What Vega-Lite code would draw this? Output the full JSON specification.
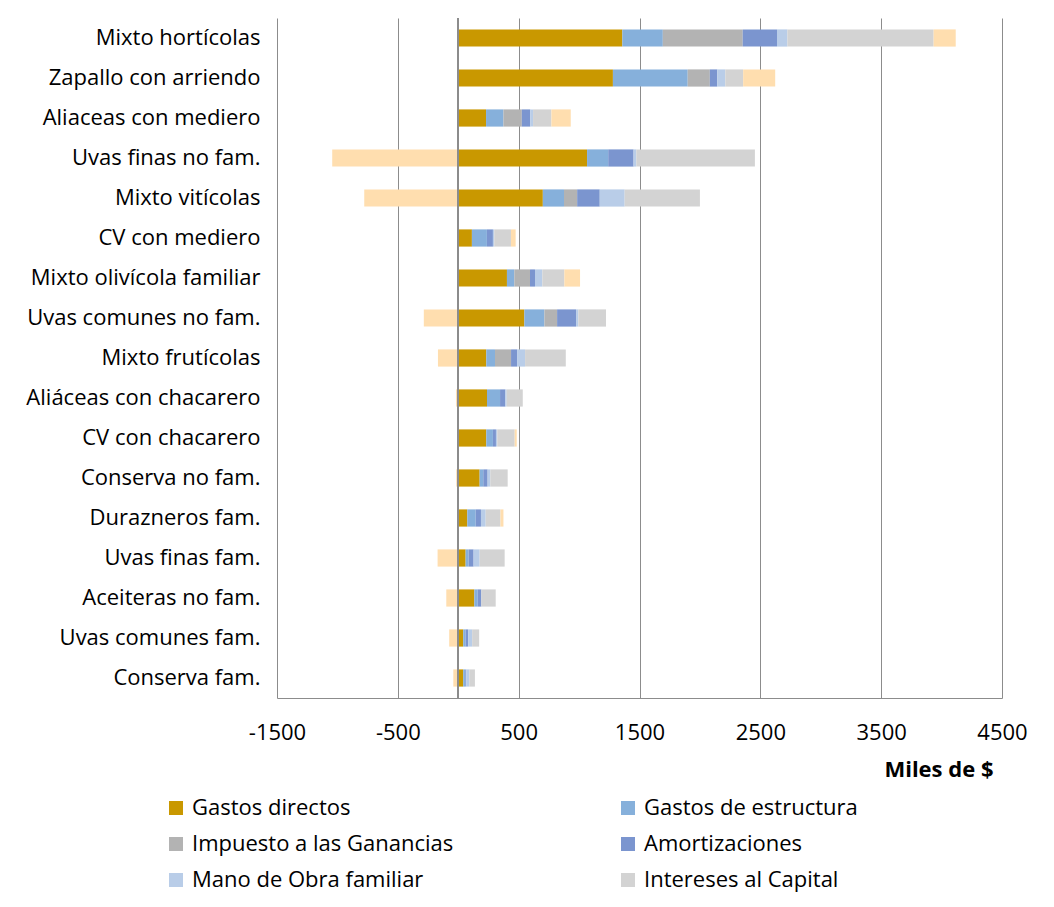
{
  "$schema": "https://vega.github.io/schema/vega-lite/v6.json",
  "description": "Costos y resultado por tipo de explotacion (stacked bars)",
  "width": 725,
  "height": 680,
  "autosize": {"type": "none"},
  "padding": {"left": 277, "top": 18, "right": 52, "bottom": 209},
  "config": {
    "font": "Open Sans",
    "view": {"stroke": null},
    "axis": {"gridColor": "#8c8c8c", "domainColor": "#8c8c8c", "ticks": false, "labelColor": "#000", "labelFontSize": 22, "labelFont": "Open Sans"},
    "legend": {"labelFontSize": 22, "labelFont": "Open Sans", "labelColor": "#000"}
  },
  "data": {
    "values": [
      {"c": "Mixto hortícolas", "s": "Gastos directos", "v": 1358},
      {"c": "Mixto hortícolas", "s": "Gastos de estructura", "v": 335},
      {"c": "Mixto hortícolas", "s": "Impuesto a las Ganancias", "v": 661},
      {"c": "Mixto hortícolas", "s": "Amortizaciones", "v": 284},
      {"c": "Mixto hortícolas", "s": "Mano de Obra familiar", "v": 86},
      {"c": "Mixto hortícolas", "s": "Intereses al Capital", "v": 1210},
      {"c": "Mixto hortícolas", "s": "Resultado", "v": 183},
      {"c": "Zapallo  con arriendo", "s": "Gastos directos", "v": 1280},
      {"c": "Zapallo  con arriendo", "s": "Gastos de estructura", "v": 619},
      {"c": "Zapallo  con arriendo", "s": "Impuesto a las Ganancias", "v": 183},
      {"c": "Zapallo  con arriendo", "s": "Amortizaciones", "v": 62},
      {"c": "Zapallo  con arriendo", "s": "Mano de Obra familiar", "v": 66},
      {"c": "Zapallo  con arriendo", "s": "Intereses al Capital", "v": 148},
      {"c": "Zapallo  con arriendo", "s": "Resultado", "v": 265},
      {"c": "Aliaceas con mediero", "s": "Gastos directos", "v": 230},
      {"c": "Aliaceas con mediero", "s": "Gastos de estructura", "v": 144},
      {"c": "Aliaceas con mediero", "s": "Impuesto a las Ganancias", "v": 152},
      {"c": "Aliaceas con mediero", "s": "Amortizaciones", "v": 70},
      {"c": "Aliaceas con mediero", "s": "Mano de Obra familiar", "v": 23},
      {"c": "Aliaceas con mediero", "s": "Intereses al Capital", "v": 152},
      {"c": "Aliaceas con mediero", "s": "Resultado", "v": 160},
      {"c": "Uvas finas no fam.", "s": "Gastos directos", "v": 1066},
      {"c": "Uvas finas no fam.", "s": "Gastos de estructura", "v": 175},
      {"c": "Uvas finas no fam.", "s": "Amortizaciones", "v": 210},
      {"c": "Uvas finas no fam.", "s": "Mano de Obra familiar", "v": 23},
      {"c": "Uvas finas no fam.", "s": "Intereses al Capital", "v": 981},
      {"c": "Uvas finas no fam.", "s": "Resultado", "v": -1043},
      {"c": "Mixto vitícolas", "s": "Gastos directos", "v": 700},
      {"c": "Mixto vitícolas", "s": "Gastos de estructura", "v": 175},
      {"c": "Mixto vitícolas", "s": "Impuesto a las Ganancias", "v": 109},
      {"c": "Mixto vitícolas", "s": "Amortizaciones", "v": 187},
      {"c": "Mixto vitícolas", "s": "Mano de Obra familiar", "v": 206},
      {"c": "Mixto vitícolas", "s": "Intereses al Capital", "v": 623},
      {"c": "Mixto vitícolas", "s": "Resultado", "v": -778},
      {"c": "CV con mediero", "s": "Gastos directos", "v": 113},
      {"c": "CV con mediero", "s": "Gastos de estructura", "v": 124},
      {"c": "CV con mediero", "s": "Amortizaciones", "v": 50},
      {"c": "CV con mediero", "s": "Mano de Obra familiar", "v": 11},
      {"c": "CV con mediero", "s": "Intereses al Capital", "v": 138},
      {"c": "CV con mediero", "s": "Resultado", "v": 39},
      {"c": "Mixto olivícola familiar", "s": "Gastos directos", "v": 403},
      {"c": "Mixto olivícola familiar", "s": "Gastos de estructura", "v": 61},
      {"c": "Mixto olivícola familiar", "s": "Impuesto a las Ganancias", "v": 130},
      {"c": "Mixto olivícola familiar", "s": "Amortizaciones", "v": 41},
      {"c": "Mixto olivícola familiar", "s": "Mano de Obra familiar", "v": 61},
      {"c": "Mixto olivícola familiar", "s": "Intereses al Capital", "v": 182},
      {"c": "Mixto olivícola familiar", "s": "Resultado", "v": 130},
      {"c": "Uvas comunes no fam.", "s": "Gastos directos", "v": 547},
      {"c": "Uvas comunes no fam.", "s": "Gastos de estructura", "v": 166},
      {"c": "Uvas comunes no fam.", "s": "Impuesto a las Ganancias", "v": 105},
      {"c": "Uvas comunes no fam.", "s": "Amortizaciones", "v": 157},
      {"c": "Uvas comunes no fam.", "s": "Mano de Obra familiar", "v": 19},
      {"c": "Uvas comunes no fam.", "s": "Intereses al Capital", "v": 229},
      {"c": "Uvas comunes no fam.", "s": "Resultado", "v": -285},
      {"c": "Mixto frutícolas", "s": "Gastos directos", "v": 232},
      {"c": "Mixto frutícolas", "s": "Gastos de estructura", "v": 72},
      {"c": "Mixto frutícolas", "s": "Impuesto a las Ganancias", "v": 133},
      {"c": "Mixto frutícolas", "s": "Amortizaciones", "v": 50},
      {"c": "Mixto frutícolas", "s": "Mano de Obra familiar", "v": 66},
      {"c": "Mixto frutícolas", "s": "Intereses al Capital", "v": 337},
      {"c": "Mixto frutícolas", "s": "Resultado", "v": -168},
      {"c": "Aliáceas con chacarero", "s": "Gastos directos", "v": 238},
      {"c": "Aliáceas con chacarero", "s": "Gastos de estructura", "v": 108},
      {"c": "Aliáceas con chacarero", "s": "Amortizaciones", "v": 44},
      {"c": "Aliáceas con chacarero", "s": "Mano de Obra familiar", "v": 11},
      {"c": "Aliáceas con chacarero", "s": "Intereses al Capital", "v": 133},
      {"c": "Aliáceas con chacarero", "s": "Resultado", "v": -19},
      {"c": "CV con chacarero", "s": "Gastos directos", "v": 232},
      {"c": "CV con chacarero", "s": "Gastos de estructura", "v": 55},
      {"c": "CV con chacarero", "s": "Amortizaciones", "v": 25},
      {"c": "CV con chacarero", "s": "Mano de Obra familiar", "v": 11},
      {"c": "CV con chacarero", "s": "Intereses al Capital", "v": 144},
      {"c": "CV con chacarero", "s": "Resultado", "v": 17},
      {"c": "Conserva no fam.", "s": "Gastos directos", "v": 177},
      {"c": "Conserva no fam.", "s": "Gastos de estructura", "v": 30},
      {"c": "Conserva no fam.", "s": "Amortizaciones", "v": 36},
      {"c": "Conserva no fam.", "s": "Mano de Obra familiar", "v": 22},
      {"c": "Conserva no fam.", "s": "Intereses al Capital", "v": 144},
      {"c": "Conserva no fam.", "s": "Resultado", "v": -17},
      {"c": "Durazneros fam.", "s": "Gastos directos", "v": 75},
      {"c": "Durazneros fam.", "s": "Gastos de estructura", "v": 69},
      {"c": "Durazneros fam.", "s": "Amortizaciones", "v": 44},
      {"c": "Durazneros fam.", "s": "Mano de Obra familiar", "v": 39},
      {"c": "Durazneros fam.", "s": "Intereses al Capital", "v": 122},
      {"c": "Durazneros fam.", "s": "Resultado", "v": 25},
      {"c": "Uvas finas  fam.", "s": "Gastos directos", "v": 61},
      {"c": "Uvas finas  fam.", "s": "Gastos de estructura", "v": 25},
      {"c": "Uvas finas  fam.", "s": "Amortizaciones", "v": 41},
      {"c": "Uvas finas  fam.", "s": "Mano de Obra familiar", "v": 50},
      {"c": "Uvas finas  fam.", "s": "Intereses al Capital", "v": 207},
      {"c": "Uvas finas  fam.", "s": "Resultado", "v": -171},
      {"c": "Aceiteras  no fam.", "s": "Gastos directos", "v": 133},
      {"c": "Aceiteras  no fam.", "s": "Gastos de estructura", "v": 28},
      {"c": "Aceiteras  no fam.", "s": "Amortizaciones", "v": 30},
      {"c": "Aceiteras  no fam.", "s": "Intereses al Capital", "v": 119},
      {"c": "Aceiteras  no fam.", "s": "Resultado", "v": -99},
      {"c": "Uvas comunes  fam.", "s": "Gastos directos", "v": 41},
      {"c": "Uvas comunes  fam.", "s": "Gastos de estructura", "v": 19},
      {"c": "Uvas comunes  fam.", "s": "Amortizaciones", "v": 22},
      {"c": "Uvas comunes  fam.", "s": "Mano de Obra familiar", "v": 33},
      {"c": "Uvas comunes  fam.", "s": "Intereses al Capital", "v": 58},
      {"c": "Uvas comunes  fam.", "s": "Resultado", "v": -75},
      {"c": "Conserva fam.", "s": "Gastos directos", "v": 41},
      {"c": "Conserva fam.", "s": "Gastos de estructura", "v": 17},
      {"c": "Conserva fam.", "s": "Amortizaciones", "v": 8},
      {"c": "Conserva fam.", "s": "Mano de Obra familiar", "v": 25},
      {"c": "Conserva fam.", "s": "Intereses al Capital", "v": 47},
      {"c": "Conserva fam.", "s": "Resultado", "v": -41}
    ]
  },
  "layer": [
    {
      "transform": [
        {"calculate": "indexof(['Gastos directos','Gastos de estructura','Impuesto a las Ganancias','Amortizaciones','Mano de Obra familiar','Intereses al Capital','Resultado'], datum.s)", "as": "o"}
      ],
      "mark": {"type": "bar"},
      "encoding": {
        "y": {
          "field": "c", "type": "nominal",
          "sort": ["Mixto hortícolas", "Zapallo  con arriendo", "Aliaceas con mediero", "Uvas finas no fam.", "Mixto vitícolas", "CV con mediero", "Mixto olivícola familiar", "Uvas comunes no fam.", "Mixto frutícolas", "Aliáceas con chacarero", "CV con chacarero", "Conserva no fam.", "Durazneros fam.", "Uvas finas  fam.", "Aceiteras  no fam.", "Uvas comunes  fam.", "Conserva fam."],
          "scale": {"paddingInner": 0.57, "paddingOuter": 0.285},
          "axis": {"title": null, "domain": false, "grid": false, "labelPadding": 17, "labelLimit": 300}
        },
        "x": {
          "field": "v", "type": "quantitative", "stack": "zero",
          "scale": {"domain": [-1500, 4500], "nice": false, "zero": false},
          "axis": {
            "values": [-1500, -500, 500, 1500, 2500, 3500, 4500],
            "labelExpr": "datum.value + ''",
            "labelFlush": false,
            "labelPadding": 24,
            "title": "Miles de $",
            "titleFontSize": 22,
            "titleFontWeight": "bold",
            "titleColor": "#000",
            "titleAnchor": "end",
            "titleAlign": "right",
            "titleX": 716,
            "titleY": 61,
            "titleBaseline": "top"
          }
        },
        "color": {
          "field": "s", "type": "nominal",
          "scale": {
            "domain": ["Gastos directos", "Gastos de estructura", "Impuesto a las Ganancias", "Amortizaciones", "Mano de Obra familiar", "Intereses al Capital", "Resultado"],
            "range": ["#C99800", "#86B0DB", "#B3B3B3", "#7B95CF", "#B9CDE8", "#D3D3D3", "#FFDEAF"]
          },
          "legend": {
            "title": null,
            "values": ["Gastos directos", "Gastos de estructura", "Impuesto a las Ganancias", "Amortizaciones", "Mano de Obra familiar", "Intereses al Capital"],
            "orient": "none",
            "direction": "horizontal",
            "legendX": -112,
            "legendY": 779,
            "columns": 2,
            "columnPadding": 163,
            "rowPadding": 14,
            "symbolType": "square",
            "symbolSize": 196,
            "symbolStrokeWidth": 0,
            "labelOffset": 5,
            "labelLimit": 400,
            "padding": 0
          }
        },
        "order": {"field": "o", "type": "quantitative"}
      }
    },
    {
      "mark": {"type": "rule", "color": "#8c8c8c", "strokeWidth": 1.5},
      "encoding": {"x": {"datum": 0, "type": "quantitative"}}
    }
  ]
}
